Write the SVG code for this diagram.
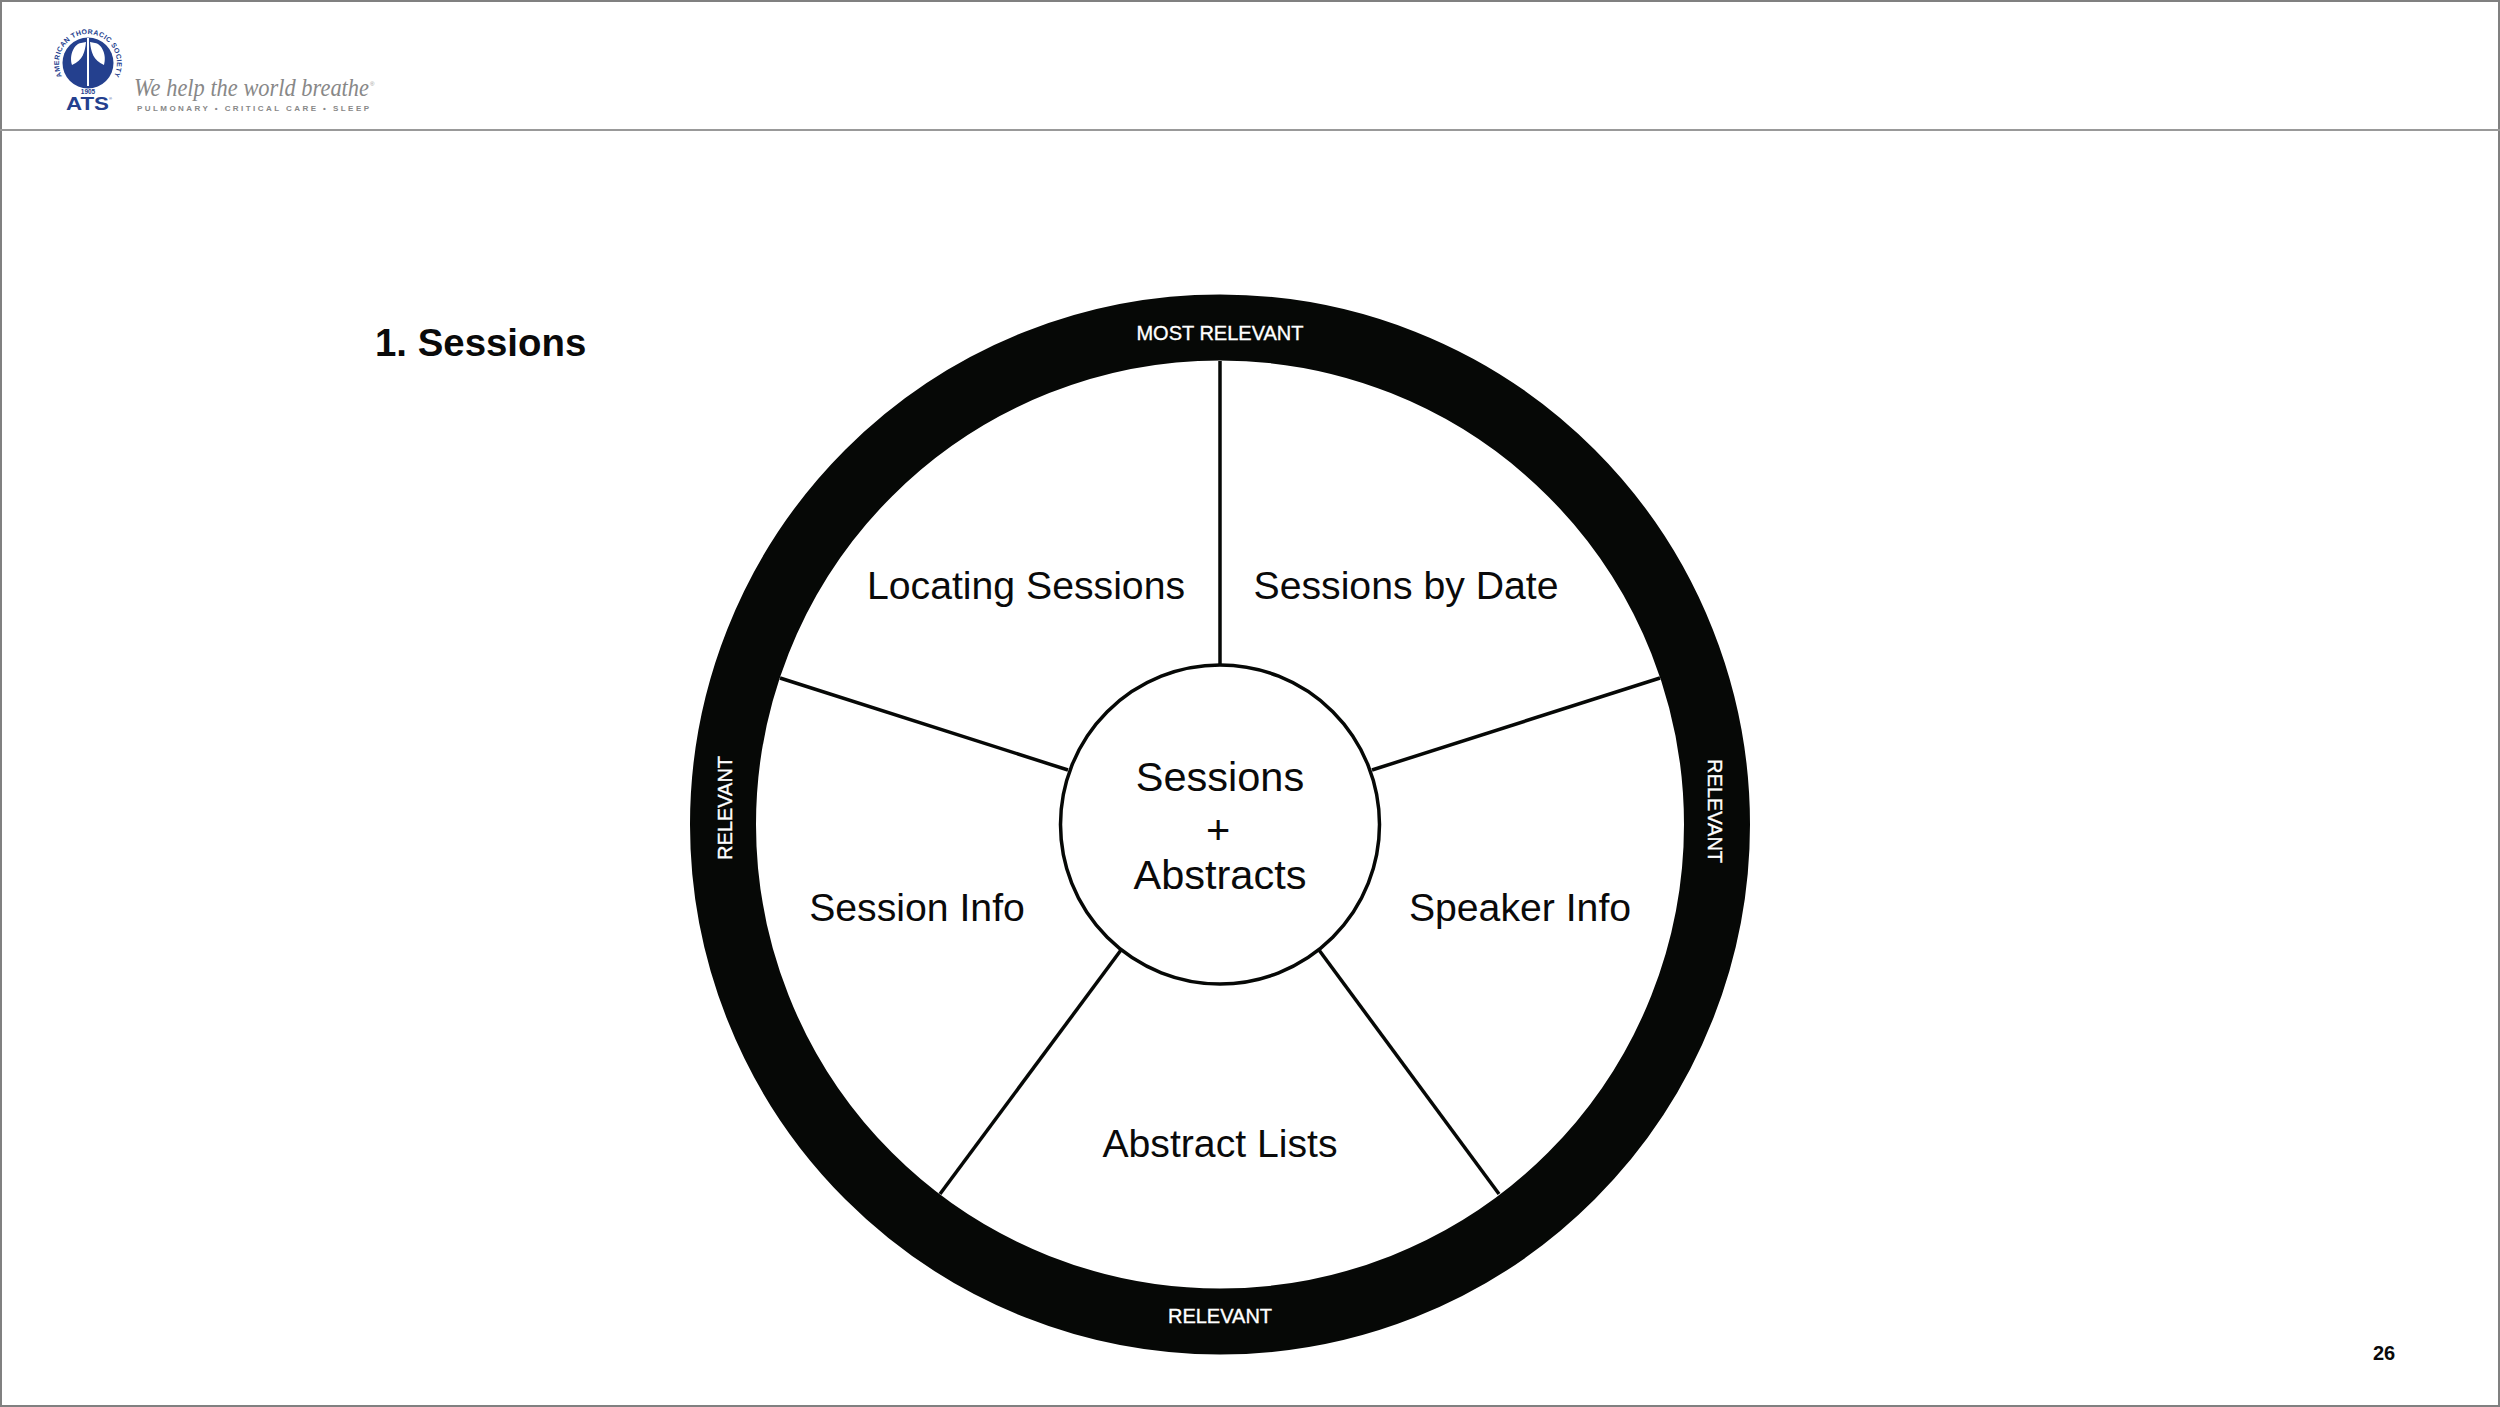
<svg xmlns="http://www.w3.org/2000/svg" width="2500" height="1407" viewBox="0 0 2500 1407">
<style>
text{font-family:"Liberation Sans",Arial,sans-serif}
.l{font-size:39.200px;fill:#0a0a0a;text-anchor:middle}
.h{font-size:41.500px;fill:#0a0a0a;text-anchor:middle}
.r{font-size:20px;fill:#fff;stroke:#fff;stroke-width:.35;text-anchor:middle}
.s{stroke:#060806;stroke-width:3.500;fill:none}
</style>
<defs><path id="ring" d="M66 82A29 29 0 1 1 110 82"/></defs>
<rect width="2500" height="1407" fill="#fff"/>
<rect x="1" y="1" width="2498" height="1405" fill="none" stroke="#808080" stroke-width="2"/>
<line x1="0" y1="130" x2="2500" y2="130" stroke="#999" stroke-width="2"/>
<g id="logo">
<circle cx="88" cy="63" r="25.500" fill="#24408e"/>
<path d="M86 42C85 52 83 60 72 65C69 55 74 44 81 43ZM90 42C91 52 93 60 104 65C107 55 102 44 95 43Z" fill="#fff"/>
<rect x="87" y="38" width="2" height="48" fill="#fff"/>
<text font-size="7" font-weight="700" fill="#24408e" letter-spacing=".35" text-anchor="middle"><textPath href="#ring" startOffset="50%">AMERICAN THORACIC SOCIETY</textPath></text>
<text x="88" y="94" font-size="6.500" font-weight="700" fill="#24408e" text-anchor="middle">1905</text>
<text x="66" y="110" font-size="18" font-weight="700" fill="#24408e" textLength="43" lengthAdjust="spacingAndGlyphs">ATS</text>
<text x="109" y="100" font-size="4" fill="#24408e">®</text>
<text x="134" y="96" font-size="26" font-style="italic" fill="#888" style="font-family:'Liberation Serif',serif" textLength="235" lengthAdjust="spacingAndGlyphs">We help the world breathe</text>
<text x="370" y="86" font-size="6" fill="#999">®</text>
<text x="137" y="111" font-size="8" font-weight="700" fill="#888" textLength="232">PULMONARY • CRITICAL CARE • SLEEP</text>
</g>
<text id="title" x="375" y="356" font-size="38.400" font-weight="700" fill="#0a0a0a">1. Sessions</text>
<g id="outer-ring">
<circle cx="1220" cy="824.500" r="497" fill="none" stroke="#060806" stroke-width="66"/>
<text class="r" x="1220" y="340">MOST RELEVANT</text>
<text class="r" x="1220" y="1323">RELEVANT</text>
<text class="r" transform="translate(732 808) rotate(-90)">RELEVANT</text>
<text class="r" transform="translate(1708 811) rotate(90)">RELEVANT</text>
</g>
<g id="connectors">
<line class="s" x1="1220" y1="664" x2="1220" y2="361"/>
<line class="s" x1="1372" y1="770" x2="1660" y2="678"/>
<line class="s" x1="1068" y1="770" x2="780" y2="678"/>
<line class="s" x1="1319" y1="950" x2="1499" y2="1194"/>
<line class="s" x1="1121" y1="950" x2="940" y2="1194"/>
</g>
<g id="hub">
<circle class="s" cx="1220" cy="824.500" r="159.500" fill="#fff"/>
<text class="h" x="1220" y="791">Sessions</text>
<text class="h" x="1218" y="844">+</text>
<text class="h" x="1220" y="889">Abstracts</text>
</g>
<g id="locating"><text class="l" x="1026" y="599">Locating Sessions</text></g>
<g id="date"><text class="l" x="1406" y="599">Sessions by Date</text></g>
<g id="session-info"><text class="l" x="917" y="921">Session Info</text></g>
<g id="speaker-info"><text class="l" x="1520" y="921">Speaker Info</text></g>
<g id="abstract-lists"><text class="l" x="1220" y="1157">Abstract Lists</text></g>
<text id="page" x="2384" y="1360" font-size="20" font-weight="700" fill="#0a0a0a" text-anchor="middle">26</text>
</svg>
